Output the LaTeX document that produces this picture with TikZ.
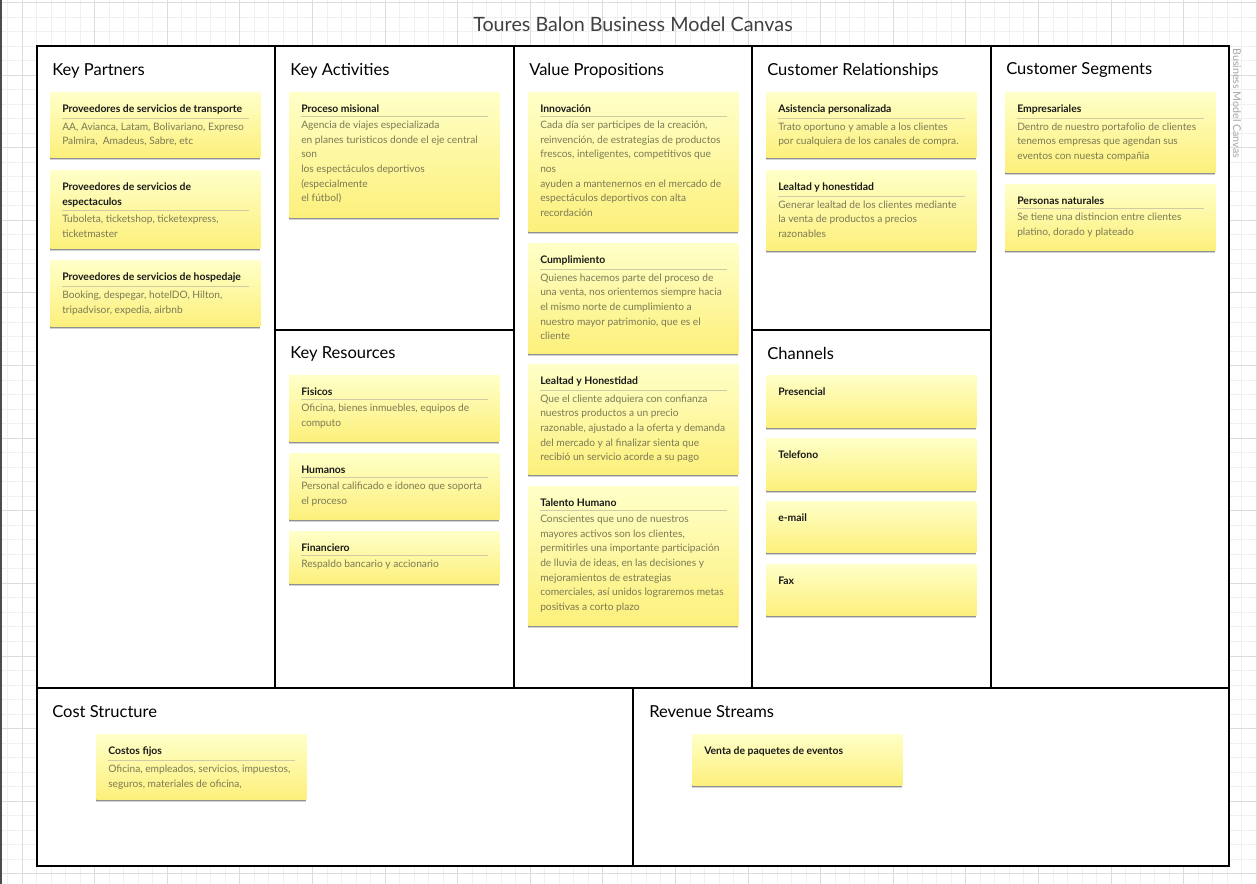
\documentclass[tikz,border=0pt]{standalone}
\usepackage{fontspec}
\setmainfont{Lato}
\usetikzlibrary{positioning}
\usetikzlibrary{shadows}
\definecolor{gridminor}{HTML}{F0F0F0}
\definecolor{gridmajor}{HTML}{DCDCDC}
\definecolor{noteTop}{HTML}{FFFFC8}
\definecolor{noteBot}{HTML}{FCF07C}
\definecolor{noteText}{HTML}{7B7A55}
\definecolor{noteRule}{HTML}{CFCBA2}
\tikzset{note/.style = {rectangle, anchor=north west, minimum width=157.5pt,
                        top color=noteTop, bottom color=noteBot,
                        drop shadow={shadow xshift=0pt, shadow yshift=-2.2pt,
                                     opacity=0.18, fill=black},
                        drop shadow={shadow xshift=0pt, shadow yshift=-1.3pt,
                                     opacity=0.3, fill=black}},
         notetitle/.style = {inner sep=0pt, align=left, text=black!90,
                             font=\fontsize{7.8}{11}\selectfont\bfseries},
         notebody/.style = {inner sep=0pt, align=left, text=noteText,
                            font=\fontsize{7.65}{11}\selectfont},
         section/.style = {anchor=west, inner sep=0pt,
                           font=\fontsize{12.4}{14}\selectfont}}
% note with title, rule and text: name, x, y, height, title, text
\newcommand{\sticky}[6]{%
  \node[note, minimum height={#4*0.75pt}] (#1) at (#2,#3) {};
  \node[notetitle, below right=9.6pt and 9pt of #1.north west] (#1t) {#5};
  \coordinate[below=2.4pt of #1t.south west] (#1r);
  \draw[noteRule, line width=0.6pt] (#1r) -- ([xshift=-9pt]#1r -| #1.east);
  \node[notebody, below=3.4pt of #1r, anchor=north west] (#1b) {#6};
}
% note with a title only
\newcommand{\stickytitle}[5]{%
  \node[note, minimum height={#4*0.75pt}] (#1) at (#2,#3) {};
  \node[notetitle, below right=9.6pt and 9pt of #1.north west] (#1t) {#5};
}

\begin{document}
\begin{tikzpicture}[x=0.75pt, y=-0.75pt]
  \useasboundingbox (0,0) rectangle (1257,884);
  \fill[white] (0,0) rectangle (1257,884);
  % grid
  \foreach \k in {-1,...,85}
    \draw[gridminor, line width=0.6pt] ({22+\k*14.52},0) -- ++(0,884);
  \foreach \k in {0,...,61}
    \draw[gridminor, line width=0.6pt] (0,{2.5+\k*14.52}) -- ++(1257,0);
  \foreach \k in {0,...,17}
    \draw[gridmajor, line width=0.6pt] ({22+\k*72.6},0) -- ++(0,884);
  \foreach \k in {0,...,12}
    \draw[gridmajor, line width=0.6pt] (0,{2.5+\k*72.6}) -- ++(1257,0);
  \draw[black!70, line width=1.2pt] (1,0) -- (1,884);

  \node[font=\fontsize{14.8}{16}\selectfont, text=black!75] (title) at (633,24)
    {Toures Balon Business Model Canvas};
  \node[rotate=-90, anchor=west, inner sep=0pt, text=black!35,
        font=\fontsize{8}{9}\selectfont] (side) at (1237,48) {Business Model Canvas};

  % canvas
  \fill[white] (37,46) rectangle (1229,866);
  \draw[line width=1.1pt] (37,46) rectangle (1229,866);
  \draw[line width=1.1pt] (37,688) -- (1229,688);
  \draw[line width=1pt] (633,688) -- (633,866);
  \foreach \x in {275,514,752,991}
    \draw[line width=1pt] (\x,46) -- (\x,688);
  \draw[line width=1pt] (275,330) -- (514,330);
  \draw[line width=1pt] (752,330) -- (991,330);

  \node[section] (kp) at (52,70.5) {Key Partners};
  \node[section] (ka) at (290,70.5) {Key Activities};
  \node[section] (vp) at (529,70.5) {Value Propositions};
  \node[section] (cr) at (767,70.5) {Customer Relationships};
  \node[section] (cs) at (1006,70.5) {Customer Segments};
  \node[section] (kr) at (290,353.5) {Key Resources};
  \node[section] (ch) at (767,353.5) {Channels};
  \node[section] (cost) at (52,711.5) {Cost Structure};
  \node[section] (rev) at (649,711.5) {Revenue Streams};

  % key partners
  \sticky{kpa}{50}{92}{65}{Proveedores de servicios de transporte}
    {AA, Avianca, Latam, Bolivariano, Expreso\\Palmira,\ \ Amadeus, Sabre, etc}
  \sticky{kpb}{50}{170}{78}{Proveedores de servicios de\\espectaculos}
    {Tuboleta, ticketshop, ticketexpress,\\ticketmaster}
  \sticky{kpc}{50}{260}{66}{Proveedores de servicios de hospedaje}
    {Booking, despegar, hotelDO, Hilton,\\tripadvisor, expedia, airbnb}

  % key activities
  \sticky{kaa}{289}{92}{125}{Proceso misional}
    {Agencia de viajes especializada\\en planes turisticos donde el eje central\\son\\los
     espectáculos deportivos\\(especialmente\\el fútbol)}

  % key resources
  \sticky{kra}{289}{375}{66}{Fisicos}{Oficina, bienes inmuebles, equipos de\\computo}
  \sticky{krb}{289}{453}{66}{Humanos}{Personal calificado e idoneo que soporta\\el proceso}
  \sticky{krc}{289}{531}{52}{Financiero}{Respaldo bancario y accionario}

  % value propositions
  \sticky{vpa}{528}{92}{139}{Innovación}
    {Cada día ser participes de la creación,\\reinvención, de estrategias de productos\\frescos,
     inteligentes, competitivos que\\nos\\ayuden a mantenernos en el mercado de\\espectáculos
     deportivos con alta\\recordación}
  \sticky{vpb}{528}{243}{110}{Cumplimiento}
    {Quienes hacemos parte del proceso de\\una venta, nos orientemos siempre hacia\\el mismo
     norte de cumplimiento a\\nuestro mayor patrimonio, que es el\\cliente}
  \sticky{vpc}{528}{364}{110}{Lealtad y Honestidad}
    {Que el cliente adquiera con confianza\\nuestros productos a un precio\\razonable, ajustado a
     la oferta y demanda\\del mercado y al finalizar sienta que\\recibió un servicio acorde a su pago}
  \sticky{vpd}{528}{486}{139}{Talento Humano}
    {Conscientes que uno de nuestros\\mayores activos son los clientes,\\permitirles una importante
     participación\\de lluvia de ideas, en las decisiones y\\mejoramientos de estrategias\\comerciales,
     así unidos lograremos metas\\positivas a corto plazo}

  % customer relationships
  \sticky{cra}{766}{92}{65}{Asistencia personalizada}
    {Trato oportuno y amable a los clientes\\por cualquiera de los canales de compra.}
  \sticky{crb}{766}{170}{80}{Lealtad y honestidad}
    {Generar lealtad de los clientes mediante\\la venta de productos a precios\\razonables}

  % channels
  \stickytitle{cha}{766}{375}{52}{Presencial}
  \stickytitle{chb}{766}{438}{52}{Telefono}
  \stickytitle{chc}{766}{501}{51}{e-mail}
  \stickytitle{chd}{766}{564}{51}{Fax}

  % customer segments
  \sticky{csa}{1005}{92}{80}{Empresariales}
    {Dentro de nuestro portafolio de clientes\\tenemos empresas que agendan sus\\eventos con
     nuesta compañia}
  \sticky{csb}{1005}{184}{66}{Personas naturales}
    {Se tiene una distincion entre clientes\\platino, dorado y plateado}

  % cost structure and revenue streams
  \sticky{costa}{96}{734}{65}{Costos fijos}
    {Oficina, empleados, servicios, impuestos,\\seguros, materiales de oficina,}
  \stickytitle{reva}{692}{734}{51}{Venta de paquetes de eventos}
\end{tikzpicture}
\end{document}
